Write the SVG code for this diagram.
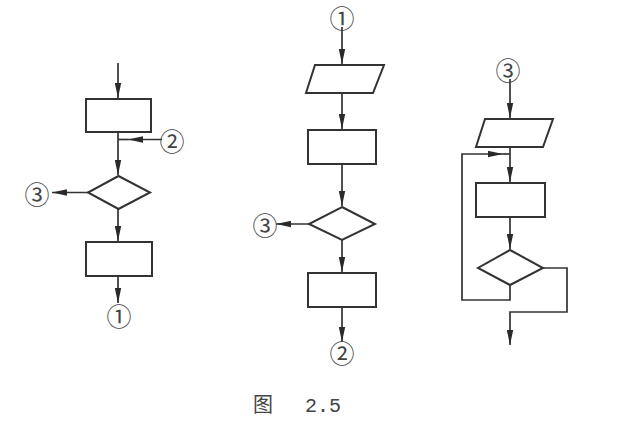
<svg xmlns="http://www.w3.org/2000/svg" width="631" height="429" viewBox="0 0 631 429">
<defs>
<marker id="ah" viewBox="0 0 15 7" refX="15" refY="3.5" markerWidth="15" markerHeight="7" markerUnits="userSpaceOnUse" orient="auto">
<path d="M0,0.3 L15,3.5 L0,6.7 Z" fill="#2a2a2a"/>
</marker>
<style>
.shape{fill:#fff;stroke:#333;stroke-width:2}
.conn{fill:none;stroke:#333;stroke-width:1.7}
.arr{fill:none;stroke:#333;stroke-width:1.7;marker-end:url(#ah)}
.lbl{font-family:"Noto Sans CJK SC","DejaVu Sans",sans-serif;font-size:25px;fill:#444;text-anchor:middle;dominant-baseline:central}
.cap{font-size:20px;fill:#444}
</style>
</defs>
<rect width="631" height="429" fill="#fff"/>
<g id="connectors">
<path class="arr" d="M118,63 V98"/>
<path class="arr" d="M162,139.5 H128"/>
<path class="conn" d="M128,139.5 H118"/>
<path class="arr" d="M118,132 V175"/>
<path class="arr" d="M88,192.5 H52"/>
<path class="arr" d="M118,209 V241"/>
<path class="arr" d="M118,276 V303"/>
<path class="arr" d="M342,27 V64"/>
<path class="arr" d="M342,93 V129"/>
<path class="arr" d="M342,164 V206"/>
<path class="arr" d="M309,224 H276"/>
<path class="arr" d="M342,240 V272"/>
<path class="arr" d="M342,307 V342"/>
<path class="arr" d="M510,79 V118"/>
<path class="arr" d="M510,147 V182"/>
<path class="arr" d="M510,217 V249"/>
<path class="arr" d="M510,285 V300 H462 V154 H503"/>
<path class="conn" d="M503,154 H510"/>
<path class="arr" d="M543,268 H567 V312 H510 V345"/>
</g>
<g id="left-rect1"><rect class="shape" x="86" y="99" width="65" height="33"/></g>
<g id="left-decision"><polygon class="shape" points="118.5,176 150,192.5 118.5,209 88,192.5"/></g>
<g id="left-rect2"><rect class="shape" x="86" y="242" width="66" height="34"/></g>
<g id="left-conn-out1"><text class="lbl" x="119" y="315">①</text></g>
<g id="left-conn-in2"><text class="lbl" x="172" y="139.5">②</text></g>
<g id="left-conn-out3"><text class="lbl" x="37" y="192.5">③</text></g>
<g id="mid-conn-in1"><text class="lbl" x="342" y="17">①</text></g>
<g id="mid-input"><polygon class="shape" points="315,65 384,65 373,93 306,93"/></g>
<g id="mid-rect1"><rect class="shape" x="308" y="130" width="68" height="34"/></g>
<g id="mid-decision"><polygon class="shape" points="342,207 375,224 342,240 309,224"/></g>
<g id="mid-conn-out3"><text class="lbl" x="265" y="224">③</text></g>
<g id="mid-rect2"><rect class="shape" x="308" y="273" width="68" height="34"/></g>
<g id="mid-conn-out2"><text class="lbl" x="342" y="352">②</text></g>
<g id="right-conn-in3"><text class="lbl" x="508" y="69">③</text></g>
<g id="right-input"><polygon class="shape" points="485,119 553,119 543,147 476,147"/></g>
<g id="right-rect"><rect class="shape" x="476" y="183" width="69" height="34"/></g>
<g id="right-decision"><polygon class="shape" points="510,250 543,268 510,285 478,268"/></g>
<g id="caption">
<text class="cap" x="253" y="412" font-family="'Noto Sans CJK SC',serif">图</text>
<text class="cap" x="305" y="412" font-family="'Liberation Mono',monospace">2.5</text>
</g>
</svg>
